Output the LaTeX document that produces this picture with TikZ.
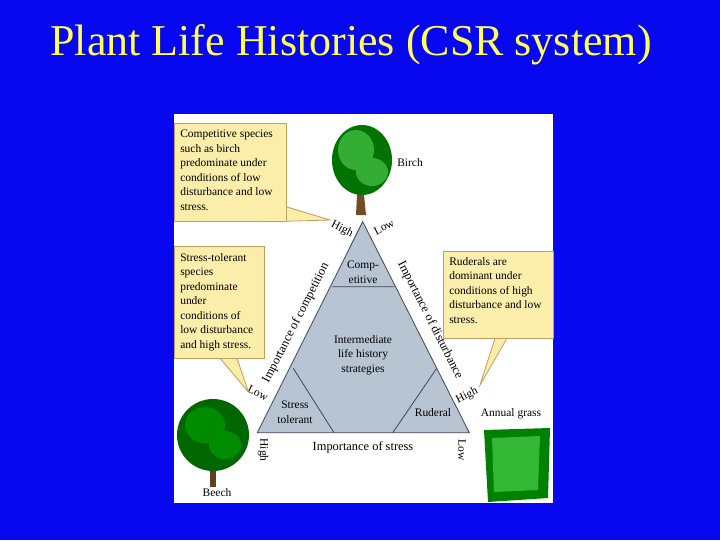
\documentclass[tikz,border=0pt]{standalone}
\usepackage{fontspec}
\setmainfont{Liberation Serif}
\begin{document}
\begin{tikzpicture}[x=0.75pt,y=-0.75pt,
  callout/.style={fill=boxfill,draw=boxline,line width=0.6pt},
  txt/.style={font=\fontsize{8.6}{10.9}\selectfont,align=left,inner sep=0pt},
  lbl/.style={font=\fontsize{8.6}{10}\selectfont,inner sep=0pt},
  axl/.style={font=\fontsize{9.3}{10}\selectfont,inner sep=0pt},
  inlbl/.style={font=\fontsize{8.6}{10.9}\selectfont,align=center,inner sep=0pt}]
\definecolor{bg}{RGB}{8,8,240}
\definecolor{boxfill}{RGB}{250,238,170}
\definecolor{boxline}{RGB}{190,160,90}
\definecolor{tri}{RGB}{183,196,210}
\definecolor{triline}{RGB}{60,70,85}
\definecolor{ttl}{RGB}{255,255,90}
\useasboundingbox (0,0) rectangle (720,540);
\fill[bg] (0,0) rectangle (720,540);
\node[font=\fontsize{33}{36}\selectfont,text=ttl] (title) at (351,45) {Plant Life Histories (CSR system)};
\fill[white] (174,114) rectangle (553,503);
% triangle
\coordinate (A) at (362.7,221.7);
\coordinate (B) at (257.3,432.7);
\coordinate (C) at (469.3,432.7);
\filldraw[fill=tri,draw=triline,line width=0.6pt] (A) -- (B) -- (C) -- cycle;
\coordinate (c1) at (332.3,286.7); \coordinate (c2) at (394,286.7);
\coordinate (s1) at (293.3,368.3); \coordinate (s2) at (334,432.7);
\coordinate (r1) at (436.7,368.3); \coordinate (r2) at (392.7,432.7);
\draw[triline,line width=0.6pt] (c1) -- (c2) (s1) -- (s2) (r1) -- (r2);
\node[inlbl] (comp) at (363,272) {Comp-\\etitive};
\node[inlbl] (inter) at (363,355) {Intermediate\\life history\\strategies};
\node[inlbl] (stol) at (295,412) {Stress\\tolerant};
\node[inlbl] (rud) at (433,413) {Ruderal};
% axis labels
\node[axl,rotate=63] (ic) at (296,323) {Importance of competition};
\node[axl,rotate=-63] (id) at (430,320) {Importance of disturbance};
\node[axl] (is) at (363,447) {Importance of stress};
\node[lbl,rotate=-27] (h1) at (342,229) {High};
\node[lbl,rotate=27] (l1) at (384,227) {Low};
\node[lbl,rotate=-27] (l2) at (258,393) {Low};
\node[lbl,rotate=27] (h2) at (467,396) {High};
\node[lbl,rotate=-90] (h3) at (263,450) {High};
\node[lbl,rotate=-90] (l3) at (462,450) {Low};
% callouts
\fill[boxfill] (270,221) -- (330,220) -- (284,205) -- cycle;
\draw[boxline,line width=0.6pt] (270,221.7) -- (330,220) -- (286.7,207);
\draw[callout] (174,123.3) rectangle (286.7,221.7);
\node[txt,anchor=north west] (t1) at (180,130) {Competitive species\\such as birch\\predominate under\\conditions of low\\disturbance and low\\stress.};
\fill[boxfill] (220,358) -- (248.3,391.7) -- (237,358) -- cycle;
\draw[boxline,line width=0.6pt] (220,358.3) -- (248.3,391.7) -- (237,358.3);
\draw[callout] (174,246.7) rectangle (264,358.3);
\node[txt,anchor=north west] (t2) at (180,253) {Stress-tolerant\\species\\predominate\\under\\conditions of\\low disturbance\\and high stress.};
\fill[boxfill] (495,338) -- (480,385) -- (507,338) -- cycle;
\draw[boxline,line width=0.6pt] (495,338.3) -- (480,385) -- (507,338.3);
\draw[callout] (443.3,251.7) rectangle (553.3,338.3);
\node[txt,anchor=north west] (t3) at (449,257) {Ruderals are\\dominant under\\conditions of high\\disturbance and low\\stress.};
% birch
\fill[brown!60!black] (358,175) -- (356,215) -- (366,215) -- (362,175) -- cycle;
\fill[green!45!black] (362,160) ellipse (30 and 35);
\fill[green!60!black!80] (356,150) ellipse (18 and 20) (372,172) ellipse (16 and 14);
\node[lbl] (birch) at (410,163) {Birch};
% beech
\fill[brown!50!black] (210,440) rectangle (216,487);
\fill[green!40!black] (213,435) ellipse (36 and 36);
\fill[green!55!black] (205,425) ellipse (20 and 18) (225,445) ellipse (16 and 14);
\node[lbl] (beech) at (217,493) {Beech};
% grass
\fill[green!50!black] (484,430) -- (550,428) -- (548,498) -- (488,502) -- cycle;
\fill[green!65!black!80] (492,438) -- (540,436) -- (538,490) -- (494,492) -- cycle;
\node[lbl] (grass) at (511,414) {Annual grass};
\end{tikzpicture}
\end{document}
